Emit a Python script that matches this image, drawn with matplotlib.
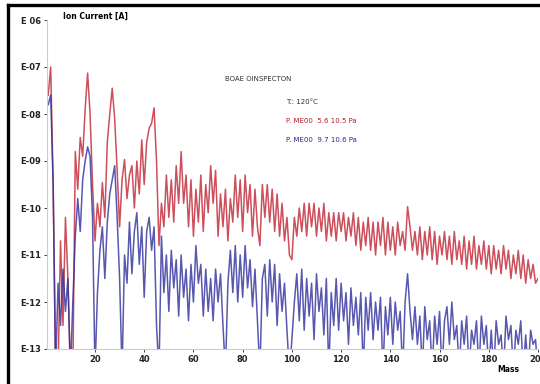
import matplotlib
matplotlib.use("Agg")
import matplotlib.pyplot as plt
from matplotlib.lines import Line2D
import numpy as np

# mass axis (amu) and exponents of the ion current
mass = list(range(1, 201))

red_exp = [
    -7.6, -7.0, -9.5, -13.5, -13.5, -10.7, -12.5, -10.2, -11.5, -13.5,
    -13.5, -8.8, -9.6, -8.5, -8.9, -7.9, -7.13, -8.0, -9.5, -10.7,
    -9.9, -10.4, -9.46, -10.2, -8.6, -8.0, -7.45, -8.1, -9.2, -10.4,
    -9.4, -8.97, -9.8, -9.3, -9.1, -10.0, -9.0, -9.7, -8.55, -9.5,
    -8.6, -8.3, -8.2, -7.87, -9.0, -10.8, -9.9, -10.4, -9.3, -10.2,
    -9.4, -10.3, -9.1, -9.9, -8.8, -9.9, -9.3, -10.4, -9.4, -10.6,
    -9.6, -10.3, -9.3, -10.5, -9.5, -10.1, -9.1, -9.9, -9.2, -10.6,
    -9.7, -10.4, -9.6, -10.7, -9.8, -10.3, -9.3, -10.2, -9.4, -10.5,
    -9.3, -10.1, -9.5, -10.6, -9.6, -10.4, -10.8, -9.5, -10.2, -9.5,
    -10.3, -9.6, -10.5, -9.7, -10.6, -9.9, -10.7, -10.2, -11.0, -11.1,
    -10.2, -10.6, -10.0, -10.5, -9.9, -10.6, -9.9, -10.4, -9.9, -10.6,
    -10.0, -10.5, -9.9, -10.7, -10.1, -10.6, -10.1, -10.7, -10.1, -10.5,
    -10.1, -10.7, -10.2, -10.6, -10.1, -10.8, -10.2, -10.9, -10.3, -10.8,
    -10.2, -10.9, -10.3, -11.0, -10.3, -10.8, -10.2, -11.0, -10.3, -10.9,
    -10.4, -11.0, -10.3, -10.8, -10.5, -10.9, -9.97, -10.4, -10.9, -10.5,
    -11.0, -10.4, -11.1, -10.5, -11.0, -10.4, -11.1, -10.5, -11.2, -10.6,
    -11.0, -10.5, -11.1, -10.6, -11.2, -10.5, -11.1, -10.7, -11.2, -10.6,
    -11.3, -10.7, -11.2, -10.6, -11.3, -10.8, -11.2, -10.7, -11.3, -10.8,
    -11.4, -10.8, -11.3, -10.9, -11.4, -10.8, -11.3, -10.9, -11.5, -11.0,
    -11.4, -10.9, -11.5, -11.0, -11.6, -11.1, -11.5, -11.2, -11.6, -11.5,
]

blue_exp = [
    -7.8, -7.6, -9.5, -13.5, -11.6, -12.5, -11.3, -12.2, -11.5, -13.5,
    -12.0, -10.6, -9.8, -10.5, -9.4, -9.0, -8.7, -8.9, -10.2, -13.5,
    -11.8, -10.9, -10.4, -11.5, -10.3, -9.7, -9.4, -9.1, -10.2, -11.5,
    -13.5, -11.0, -11.6, -10.3, -11.4, -10.5, -10.1, -11.2, -10.4, -11.9,
    -10.5, -10.2, -10.9, -10.4, -12.5, -13.5, -10.6, -11.8, -11.0, -12.2,
    -10.9, -11.7, -11.1, -12.3, -11.0, -11.9, -11.3, -12.4, -11.2, -12.0,
    -10.8, -11.6, -11.2, -12.3, -11.3, -12.2, -11.5, -12.4, -11.3, -12.0,
    -11.4, -12.5, -13.5, -11.6, -10.9, -11.8, -10.8, -12.0, -11.0, -11.9,
    -10.8, -11.7, -11.1, -12.1, -11.3, -12.4, -13.5, -11.5, -11.2, -12.3,
    -11.1, -12.0, -11.2, -12.5, -11.4, -12.2, -11.6, -12.6, -13.5, -12.8,
    -12.0, -11.4, -12.4, -11.3, -12.6, -11.5, -12.3, -11.6, -12.8, -11.4,
    -12.2, -11.7, -12.7, -11.5, -13.5, -11.8, -12.5, -11.5, -12.6, -11.6,
    -12.4, -11.8, -12.9, -11.7, -12.5, -11.9, -12.7, -11.8, -13.5, -11.9,
    -12.6, -11.8, -12.8, -12.0, -12.6, -11.9, -13.5, -12.1, -12.7, -11.9,
    -12.9, -12.0, -12.6, -12.2, -13.5, -12.0, -11.4, -12.2, -12.8, -12.1,
    -12.9, -12.3, -13.5, -12.1, -12.8, -12.4, -13.5, -12.3, -12.9, -12.2,
    -13.5, -12.4, -12.1, -12.9, -12.0, -12.8, -12.5, -13.5, -12.4, -12.9,
    -12.3, -13.5, -12.6, -12.9, -12.4, -13.5, -12.3, -12.9, -12.5, -13.5,
    -12.6, -13.5, -12.4, -12.9, -12.7, -13.5, -12.3, -12.8, -12.5, -13.5,
    -12.6, -12.9, -12.4, -13.5, -12.7, -13.5, -12.6, -12.9, -12.8, -13.5,
]

y_ticks = [1e-6, 1e-7, 1e-8, 1e-9, 1e-10, 1e-11, 1e-12, 1e-13]
y_labels = ["E 06", "E-07", "E-08", "E-09", "E-10", "E-11", "E-12", "E-13"]
x_ticks = [20, 40, 60, 80, 100, 120, 140, 160, 180, 200]

fig = plt.figure(figsize=(5.4, 3.84), dpi=100)
ax = fig.add_axes([47 / 540, 1 - 349 / 384, 491 / 540, 329 / 384])

ax.plot(mass, 10.0 ** np.array(red_exp), color="#c4303f", lw=1.1, alpha=0.85)
ax.plot(mass, 10.0 ** np.array(blue_exp), color="#2e2e9c", lw=1.1, alpha=0.8)

ax.set_yscale("log")
ax.set_ylim(1e-13, 1e-6)
ax.set_xlim(0.5, 200)
ax.set_yticks(y_ticks)
ax.set_yticklabels(y_labels)
ax.minorticks_off()
ax.set_xticks(x_ticks)
ax.tick_params(axis="both", labelsize=6, length=2, width=0.6, pad=2, colors="#222222")
for lab in ax.get_xticklabels() + ax.get_yticklabels():
    lab.set_fontweight("bold")

for s in ["top", "right"]:
    ax.spines[s].set_visible(False)
ax.spines["left"].set_color("#cccccc")
ax.spines["bottom"].set_color("#cccccc")
ax.spines["left"].set_linewidth(0.8)
ax.spines["bottom"].set_linewidth(0.8)

fig.text(95 / 540, 1 - 16 / 384, "Ion Current [A]", fontsize=5.5, fontweight="bold",
         ha="center", va="center")
fig.text(508 / 540, 1 - 369 / 384, "Mass", fontsize=5.5, fontweight="bold",
         ha="center", va="center")

fig.text(225 / 540, 1 - 79 / 384, "BOAE OINSPECTON", fontsize=5, ha="left", va="center", color="#333333")
fig.text(286 / 540, 1 - 102 / 384, "T.: 120°C", fontsize=5, ha="left", va="center", color="#333333")
fig.text(286 / 540, 1 - 121 / 384, "P. ME00  5.6 10.5 Pa", fontsize=5, ha="left", va="center", color="#b02030")
fig.text(286 / 540, 1 - 140 / 384, "P. ME00  9.7 10.6 Pa", fontsize=5, ha="left", va="center", color="#2a2a90")

# black frame along top and left
fig.add_artist(Line2D([8 / 540, 1], [1 - 5 / 384, 1 - 5 / 384], color="black", lw=2.4,
                      transform=fig.transFigure))
fig.add_artist(Line2D([8 / 540, 8 / 540], [0, 1 - 5 / 384], color="black", lw=2.4,
                      transform=fig.transFigure))

fig.savefig("out.png", dpi=100)
